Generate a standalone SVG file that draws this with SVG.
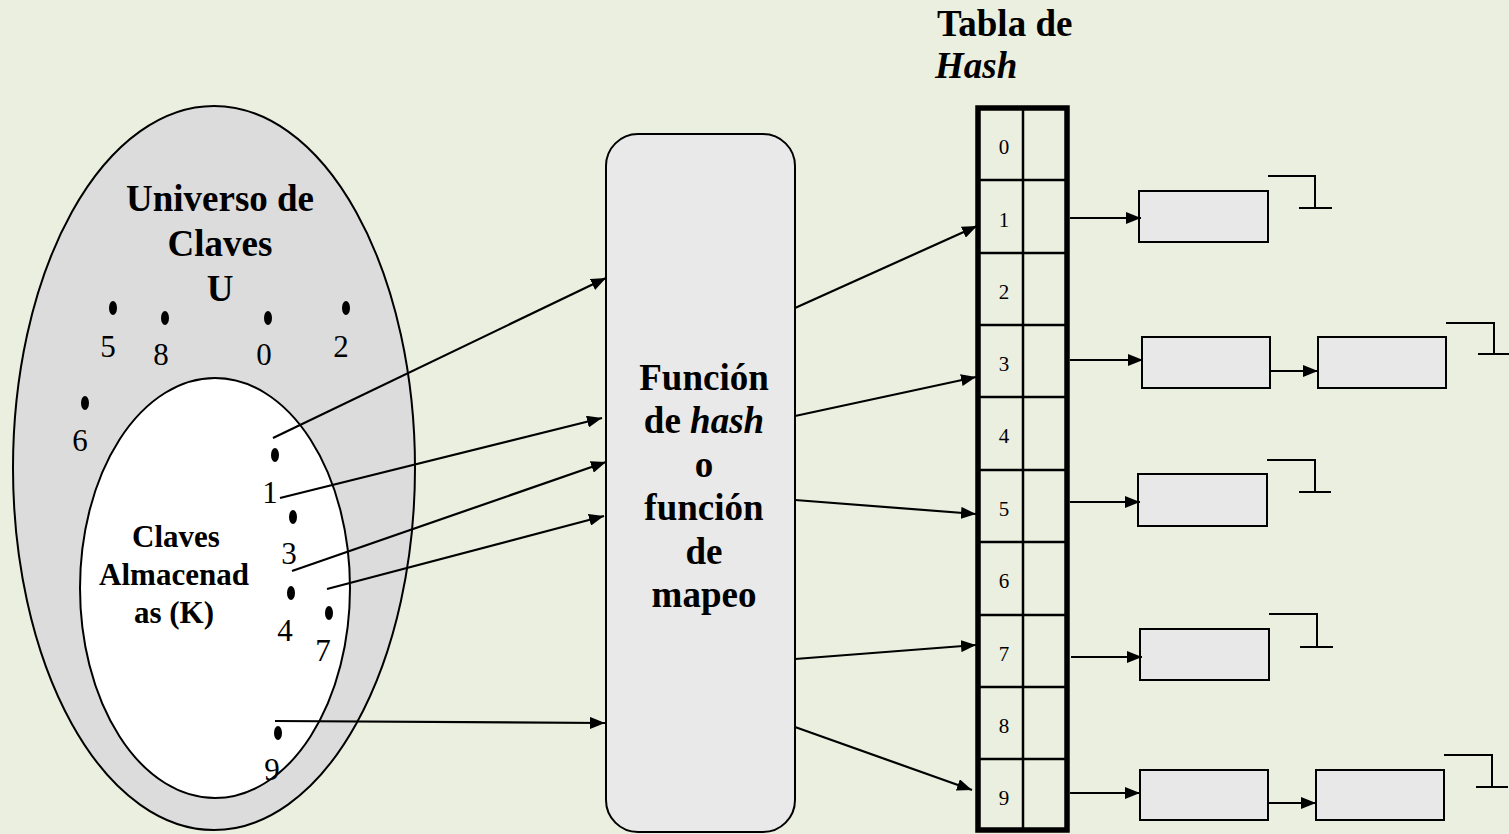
<svg xmlns="http://www.w3.org/2000/svg" width="1509" height="834" viewBox="0 0 1509 834">
<defs>
<marker id="ah" markerUnits="userSpaceOnUse" markerWidth="16" markerHeight="12" refX="15" refY="6" orient="auto">
<path d="M0,0 L15,6 L0,12 z" fill="#000"/>
</marker>
<style>
.b{font-family:"Liberation Serif","Times New Roman",serif;font-weight:bold;fill:#000}
.n{font-family:"Liberation Serif","Times New Roman",serif;fill:#000}
.c{stroke:#000;stroke-width:2.2;fill:none;marker-end:url(#ah)}
.box{fill:#e8e8e8;stroke:#000;stroke-width:2}
.nul{stroke:#000;stroke-width:2;fill:none}
.dot{fill:#000}
</style>
</defs>
<rect width="1509" height="834" fill="#ebefdf"/>

<g id="universo">
<ellipse cx="214" cy="468" rx="201" ry="362" fill="#dcdcdc" stroke="#000" stroke-width="2"/>
<text class="b" font-size="37" text-anchor="middle" x="220" y="211">Universo de</text>
<text class="b" font-size="37" text-anchor="middle" x="220" y="256">Claves</text>
<text class="b" font-size="37" text-anchor="middle" x="220" y="301">U</text>
<ellipse class="dot" cx="113" cy="308" rx="4" ry="7"/>
<ellipse class="dot" cx="165" cy="318" rx="4" ry="7"/>
<ellipse class="dot" cx="268" cy="318" rx="4" ry="7"/>
<ellipse class="dot" cx="346" cy="308" rx="4" ry="7"/>
<ellipse class="dot" cx="85" cy="403" rx="4" ry="7"/>
<g class="n" font-size="31" text-anchor="middle">
<text x="108" y="357">5</text>
<text x="161" y="365">8</text>
<text x="264" y="365">0</text>
<text x="341" y="357">2</text>
<text x="80" y="451">6</text>
</g>
</g>

<g id="almacenadas">
<ellipse cx="215" cy="588" rx="135" ry="210" fill="#fff" stroke="#000" stroke-width="2"/>
<text class="b" font-size="31" text-anchor="middle" x="176" y="547">Claves</text>
<text class="b" font-size="31" text-anchor="middle" x="174" y="585">Almacenad</text>
<text class="b" font-size="31" text-anchor="middle" x="174" y="623">as (K)</text>
<ellipse class="dot" cx="275" cy="455" rx="4" ry="7"/>
<ellipse class="dot" cx="293" cy="517" rx="4" ry="7"/>
<ellipse class="dot" cx="291" cy="593" rx="4" ry="7"/>
<ellipse class="dot" cx="329" cy="613" rx="4" ry="7"/>
<ellipse class="dot" cx="278" cy="733" rx="4" ry="7"/>
<g class="n" font-size="31" text-anchor="middle">
<text x="270" y="503">1</text>
<text x="289" y="564">3</text>
<text x="285" y="641">4</text>
<text x="323" y="661">7</text>
<text x="272" y="780">9</text>
</g>
</g>

<g id="funcion">
<rect x="606" y="134" width="189" height="698" rx="32" ry="32" fill="#e9e9e9" stroke="#000" stroke-width="2"/>
<text class="b" font-size="37" text-anchor="middle" x="704" y="390">Función</text>
<text class="b" font-size="37" text-anchor="middle" x="704" y="433">de <tspan font-style="italic">hash</tspan></text>
<text class="b" font-size="37" text-anchor="middle" x="704" y="477">o</text>
<text class="b" font-size="37" text-anchor="middle" x="704" y="520">función</text>
<text class="b" font-size="37" text-anchor="middle" x="704" y="564">de</text>
<text class="b" font-size="37" text-anchor="middle" x="704" y="607">mapeo</text>
</g>

<g id="tabla">
<text class="b" font-size="37" x="937" y="36">Tabla de</text>
<text class="b" font-size="37" font-style="italic" x="935" y="78">Hash</text>
<g stroke="#000" stroke-width="2.5">
<line x1="978" y1="180" x2="1067" y2="180"/>
<line x1="978" y1="253" x2="1067" y2="253"/>
<line x1="978" y1="325" x2="1067" y2="325"/>
<line x1="978" y1="397" x2="1067" y2="397"/>
<line x1="978" y1="470" x2="1067" y2="470"/>
<line x1="978" y1="542" x2="1067" y2="542"/>
<line x1="978" y1="615" x2="1067" y2="615"/>
<line x1="978" y1="687" x2="1067" y2="687"/>
<line x1="978" y1="759" x2="1067" y2="759"/>
<line x1="1023" y1="108" x2="1023" y2="830"/>
</g>
<rect x="978" y="108" width="89" height="722" fill="none" stroke="#000" stroke-width="5.5"/>
<g class="n" font-size="21" text-anchor="middle">
<text x="1004" y="154">0</text>
<text x="1004" y="227">1</text>
<text x="1004" y="299">2</text>
<text x="1004" y="371">3</text>
<text x="1004" y="443">4</text>
<text x="1004" y="516">5</text>
<text x="1004" y="588">6</text>
<text x="1004" y="661">7</text>
<text x="1004" y="733">8</text>
<text x="1004" y="805">9</text>
</g>
</g>

<g id="lista1">
<rect class="box" x="1139" y="191" width="129" height="51"/>
<path class="nul" d="M1268,176 H1315 V208 M1299,208 H1332"/>
</g>
<g id="lista3">
<rect class="box" x="1142" y="337" width="128" height="51"/>
<rect class="box" x="1318" y="337" width="128" height="51"/>
<path class="nul" d="M1446,323 H1494 V354 M1478,354 H1509"/>
</g>
<g id="lista5">
<rect class="box" x="1138" y="474" width="129" height="52"/>
<path class="nul" d="M1267,460 H1315 V492 M1299,492 H1331"/>
</g>
<g id="lista7">
<rect class="box" x="1140" y="629" width="129" height="51"/>
<path class="nul" d="M1269,614 H1317 V647 M1300,647 H1333"/>
</g>
<g id="lista9">
<rect class="box" x="1140" y="770" width="128" height="50"/>
<rect class="box" x="1316" y="770" width="128" height="50"/>
<path class="nul" d="M1444,755 H1492 V787 M1476,787 H1508"/>
</g>

<g id="conectores">
<line class="c" x1="273" y1="438" x2="606" y2="278"/>
<line class="c" x1="280" y1="498" x2="602" y2="418"/>
<line class="c" x1="292" y1="571" x2="606" y2="462"/>
<line class="c" x1="327" y1="589" x2="604" y2="516"/>
<line class="c" x1="275" y1="721" x2="605" y2="723"/>
<line class="c" x1="795" y1="308" x2="977" y2="226"/>
<line class="c" x1="795" y1="416" x2="976" y2="377"/>
<line class="c" x1="795" y1="500" x2="976" y2="514"/>
<line class="c" x1="795" y1="659" x2="976" y2="645"/>
<line class="c" x1="795" y1="727" x2="972" y2="790"/>
<line class="c" x1="1070" y1="218" x2="1141" y2="218"/>
<line class="c" x1="1070" y1="360" x2="1143" y2="360"/>
<line class="c" x1="1270" y1="371" x2="1318" y2="371"/>
<line class="c" x1="1070" y1="502" x2="1140" y2="502"/>
<line class="c" x1="1071" y1="657" x2="1142" y2="657"/>
<line class="c" x1="1070" y1="793" x2="1140" y2="793"/>
<line class="c" x1="1268" y1="803" x2="1316" y2="803"/>
</g>
</svg>
